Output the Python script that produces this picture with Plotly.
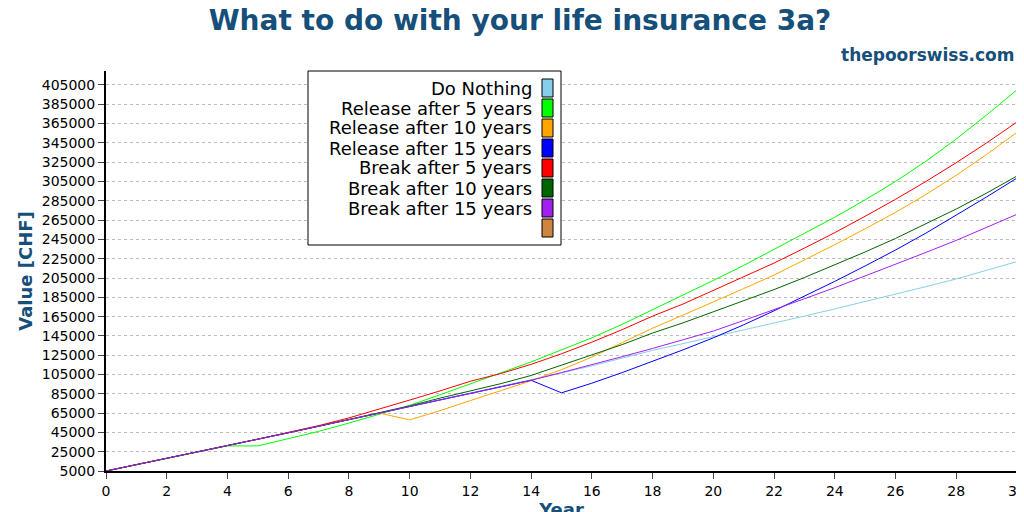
import plotly.graph_objects as go

years = list(range(31))
do_nothing = [5000,11500,18000,24500,31000,37800,44600,51400,58200,65000,71800,78600,85400,92200,99000,
              106500,114000,122000,130000,137000,144000,151000,158000,165500,173000,180500,188000,196000,204000,213000,222000]
release5 = [5000,11500,18000,24500,31000,31000,38500,46000,54700,63500,73000,84000,95500,106500,118000,
            130500,143000,157000,172000,187000,202500,218000,234500,251000,268000,286000,305000,326000,349000,374000,400000]
release10 = [5000,11500,18000,24500,31000,37800,44600,51400,58200,65000,58000,67500,78000,88000,98500,
             110000,123000,138000,153000,166500,180000,194000,208000,223500,239500,256000,273000,291500,311500,333000,356000]
release15 = [5000,11500,18000,24500,31000,37800,44600,51400,58200,65000,71800,78600,85400,92200,99000,
             86000,96000,107000,118500,130500,143000,156500,171000,186000,201500,217500,234000,251500,270000,289000,308600]
break5 = [5000,11500,18000,24500,31000,38000,45000,52000,60000,69000,78500,88000,98000,106000,115500,
          126500,138500,151500,165500,178000,192000,206000,220500,236000,252000,269000,286500,305000,324500,345000,366600]
break10 = [5000,11500,18000,24500,31000,37800,44600,51400,58200,65000,72500,80500,88000,95500,104000,
           114500,125000,136000,148000,158500,170000,181500,193000,205500,218500,232000,246000,261000,276500,293000,310700]
break15 = [5000,11500,18000,24500,31000,37800,44600,51400,58200,65000,71800,78600,85400,92200,99000,
           107000,115000,123500,132000,141000,150000,161000,172000,183500,195000,207000,219000,231500,244000,257500,271000]

names = ["Do Nothing","Release after 5 years","Release after 10 years","Release after 15 years",
         "Break after 5 years","Break after 10 years","Break after 15 years",""]
colors = ["#87CEEB","#00FF00","#FFA500","#0000FF","#FF0000","#006400","#A020F0","#CD853F"]
series = [do_nothing,release5,release10,release15,break5,break10,break15]
yticks = list(range(5000, 405001, 20000))
xticks = list(range(0, 31, 2))

fig = go.Figure()
for s, c, n in zip(series, colors, names):
    fig.add_trace(go.Scatter(x=years, y=s, mode="lines", line=dict(color=c, width=1), name=n, showlegend=False))

blue = "#154f7a"
fig.update_layout(
    width=1024, height=512, margin=dict(l=98, r=15, t=63, b=49),
    paper_bgcolor="white", plot_bgcolor="white",
    font=dict(family="DejaVu Sans", size=14, color="black"),
    title=dict(text="<b>What to do with your life insurance 3a?</b>", x=0.5, xanchor="center", y=0.995, yanchor="top",
               font=dict(size=28, color=blue)),
    xaxis=dict(range=[0, 30], tickvals=xticks, ticks="outside", ticklen=6, showline=True, linecolor="black",
               linewidth=2, showgrid=False, zeroline=False, automargin=False,
               title=dict(text="<b>Year</b>", font=dict(size=18, color=blue), standoff=0)),
    yaxis=dict(range=[5000, 419500], tickvals=yticks, tickformat="d", ticks="outside", ticklen=6, showline=True,
               linecolor="black", linewidth=2, showgrid=True, gridcolor="#bbbbbb", griddash="dot", zeroline=False,
               automargin=False,
               title=dict(text="<b>Value [CHF]</b>", font=dict(size=18, color=blue), standoff=4)),
)
fig.add_shape(type="line", xref="x", yref="paper", x0=30, x1=30, y0=0, y1=1, line=dict(color="black", width=2))
fig.add_annotation(text="<b>thepoorswiss.com</b>", xref="paper", yref="paper", x=1.0, y=1.0, yshift=4,
                   xanchor="right", yanchor="bottom", showarrow=False, font=dict(size=17, color=blue))

# legend box (pixel -> paper)
pw, ph, L, T = 1024 - 98 - 15, 512 - 63 - 49, 98, 63
px = lambda x: (x - L) / pw
py = lambda y: 1 - (y - T) / ph
fig.add_shape(type="rect", xref="paper", yref="paper", x0=px(300), x1=px(553), y0=py(63), y1=py(237),
              line=dict(color="black", width=1), fillcolor="white", layer="above")
for i, (n, c) in enumerate(zip(names, colors)):
    yc = 80 + 20 * i
    fig.add_shape(type="rect", xref="paper", yref="paper", x0=px(534), x1=px(545), y0=py(yc + 9), y1=py(yc - 9),
                  line=dict(color="black", width=1), fillcolor=c, layer="above")
    if n:
        fig.add_annotation(text=n, xref="paper", yref="paper", x=px(526), y=py(yc), xanchor="right", yanchor="middle",
                           showarrow=False, font=dict(size=18, color="black"))

fig.write_html("out.html")
